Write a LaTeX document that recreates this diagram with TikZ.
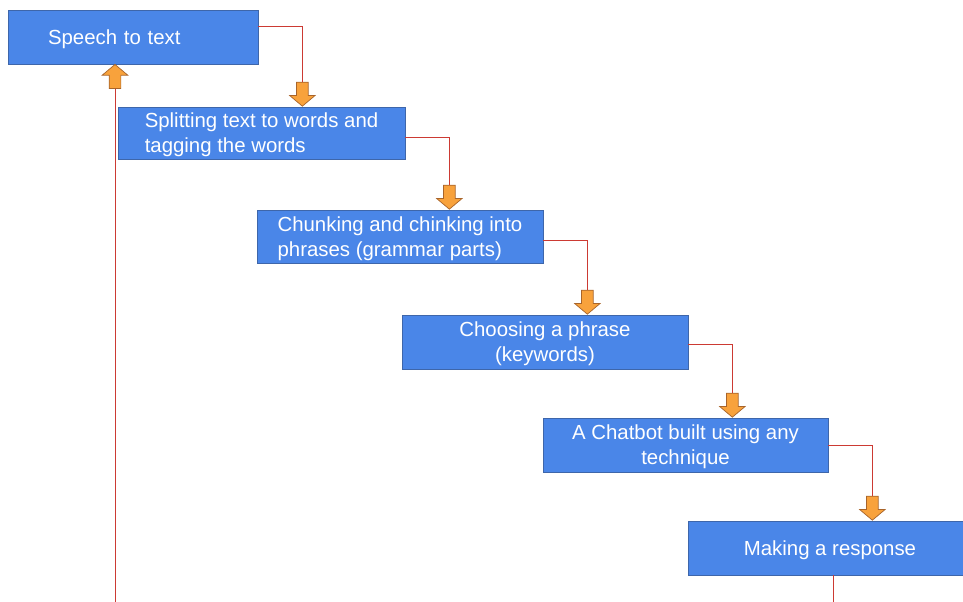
\documentclass[tikz,border=0pt]{standalone}
\usepackage{fontspec}
\setmainfont{Liberation Sans}
\usetikzlibrary{shapes.arrows}

\definecolor{stageblue}{HTML}{4A86E8}
\definecolor{stageedge}{HTML}{3E66AA}
\definecolor{flowred}{HTML}{CC3A33}
\definecolor{arrowfill}{HTML}{F8A23C}
\definecolor{arrowedge}{HTML}{A8642A}

\tikzset{
  stage/.style={rectangle, fill=stageblue, draw=stageedge, line width=0.5pt,
    text=white, font=\fontsize{14.5}{17.8}\selectfont,
    minimum height=1.35cm, inner ysep=0pt, text depth=0pt},
  flow/.style={draw=flowred, line width=0.7pt},
  blockarrow/.style={single arrow, fill=arrowfill, draw=arrowedge, line width=0.5pt,
    minimum height=0.6cm, minimum width=0.625cm, inner xsep=0.1375cm, inner ysep=0pt,
    single arrow head extend=0.175cm, single arrow tip angle=100},
  downarrow/.style={blockarrow, shape border rotate=270},
  uparrow/.style={blockarrow, shape border rotate=90}
}

\begin{document}
\begin{tikzpicture}
\useasboundingbox (0,0) rectangle (24.075,-15.05);

% the stages
\node[stage, align=left, text width=4.25cm, inner xsep=1cm] (s1) at (3.325,-0.925) {Speech to text};
\node[stage, align=left, minimum width=7.175cm, minimum height=1.3cm] (s2) at (6.5375,-3.325) {Splitting text to words and\\tagging the words};
\node[stage, align=left, minimum width=7.15cm, minimum height=1.325cm] (s3) at (10.0,-5.9125) {Chunking and chinking into\\phrases (grammar parts)};
\node[stage, align=center, minimum width=7.15cm] (s4) at (13.625,-8.55) {Choosing a phrase\\(keywords)};
\node[stage, align=center, minimum width=7.125cm] (s5) at (17.1375,-11.125) {A Chatbot built using any\\technique};
\node[stage, align=center, minimum width=7.1cm] (s6) at (20.75,-13.7) {Making a response};

% where the arrows sit
\coordinate (k1) at ([xshift=1.1cm]s1.east);
\coordinate (k2) at ([xshift=1.1cm]s2.east);
\coordinate (k3) at ([xshift=1.1cm]s3.east);
\coordinate (k4) at ([xshift=1.1cm]s4.east);
\coordinate (k5) at ([xshift=1.1cm]s5.east);

\node[downarrow, anchor=tip] (a1) at (k1 |- s2.north) {};
\node[downarrow, anchor=tip] (a2) at (k2 |- s3.north) {};
\node[downarrow, anchor=tip] (a3) at (k3 |- s4.north) {};
\node[downarrow, anchor=tip] (a4) at (k4 |- s5.north) {};
\node[downarrow, anchor=tip] (a5) at (k5 |- s6.north) {};
\node[uparrow, anchor=tip] (a0) at (2.875,-1.6) {};

% red connectors
\draw[flow] ([yshift=0.275cm]s1.east) -| (a1.tail);
\draw[flow] ([yshift=-0.1cm]s2.east) -| (a2.tail);
\draw[flow] ([yshift=-0.09cm]s3.east) -| (a3.tail);
\draw[flow] ([yshift=-0.05cm]s4.east) -| (a4.tail);
\draw[flow] (s5.east) -| (a5.tail);

\coordinate (out6) at ([xshift=0.075cm]s6.south |- 0,-15.05);
\coordinate (in0) at (2.875,-15.05);
\draw[flow] ([xshift=0.075cm]s6.south) -- (out6);
\draw[flow] (in0) -- (a0.tail);

\end{tikzpicture}
\end{document}
